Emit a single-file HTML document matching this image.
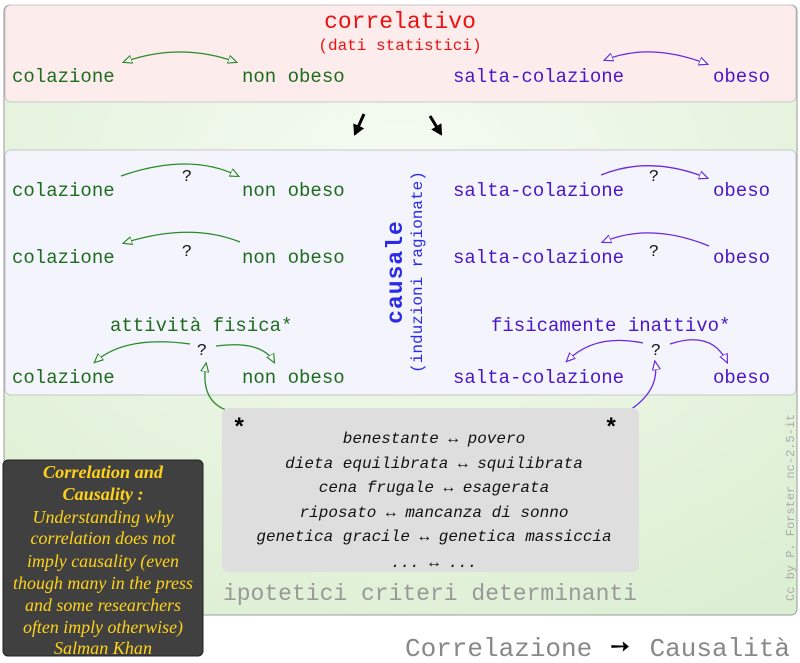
<!DOCTYPE html>
<html><head><meta charset="utf-8"><style>
body{margin:0;background:#fff;}
svg{display:block}
.m{font-family:"Liberation Mono",monospace;font-size:19px}
.g{fill:#1f6b1f}.p{fill:#4a16c8}
.i{font-family:"Liberation Mono",monospace;font-style:italic;font-size:16px;fill:#111}
</style></head><body>
<svg width="800" height="663" viewBox="0 0 800 663" xmlns="http://www.w3.org/2000/svg">
<defs>
<radialGradient id="gg" cx="0.5" cy="0.3" r="0.8"><stop offset="0" stop-color="#f6fbf3"/><stop offset="1" stop-color="#dcefd2"/></radialGradient>
<marker id="ag" markerWidth="10" markerHeight="10" refX="8" refY="5" orient="auto-start-reverse" markerUnits="userSpaceOnUse"><path d="M0,1 L9,5 L0,9 Z" fill="#fff" stroke="#2a8a2a" stroke-width="1.2"/></marker>
<marker id="ap" markerWidth="10" markerHeight="10" refX="8" refY="5" orient="auto-start-reverse" markerUnits="userSpaceOnUse"><path d="M0,1 L9,5 L0,9 Z" fill="#fff" stroke="#6a2ae0" stroke-width="1.2"/></marker>
<marker id="ab" markerWidth="12" markerHeight="12" refX="9" refY="6" orient="auto" markerUnits="userSpaceOnUse"><path d="M0,0 L11,6 L0,12 Z" fill="#000"/></marker>
</defs>
<rect x="4" y="5" width="793" height="610" rx="6" fill="url(#gg)" stroke="#9a9a9a"/>
<rect x="5" y="5" width="791" height="97" rx="6" fill="#fcecec" stroke="#c8c8c8"/>
<rect x="5" y="150" width="791" height="245" rx="6" fill="#f4f4fd" stroke="#c8c8c8"/>
<text x="400" y="28" text-anchor="middle" font-family="Liberation Mono,monospace" font-size="23" fill="#ee1111">correlativo</text>
<text x="400" y="50" text-anchor="middle" font-family="Liberation Mono,monospace" font-size="16" fill="#ee1111">(dati statistici)</text>
<g class="m">
<text x="12" y="82" class="g">colazione</text><text x="242" y="82" class="g">non obeso</text>
<text x="453" y="82" class="p">salta-colazione</text><text x="713" y="82" class="p">obeso</text>
<text x="12" y="196" class="g">colazione</text><text x="242" y="196" class="g">non obeso</text>
<text x="453" y="196" class="p">salta-colazione</text><text x="713" y="196" class="p">obeso</text>
<text x="12" y="263" class="g">colazione</text><text x="242" y="263" class="g">non obeso</text>
<text x="453" y="263" class="p">salta-colazione</text><text x="713" y="263" class="p">obeso</text>
<text x="12" y="383" class="g">colazione</text><text x="242" y="383" class="g">non obeso</text>
<text x="453" y="383" class="p">salta-colazione</text><text x="713" y="383" class="p">obeso</text>
<text x="110" y="331" class="g">attività fisica*</text>
<text x="491" y="331" class="p">fisicamente inattivo*</text>
</g>
<g fill="none" stroke-width="1.3">
<path d="M124,62 Q180,42 236,62" stroke="#2a8a2a" marker-end="url(#ag)" marker-start="url(#ag)"/>
<path d="M605,60 Q650,42 707,64" stroke="#6a2ae0" marker-end="url(#ap)" marker-start="url(#ap)"/>
<path d="M121,176 Q190,152 238,176" stroke="#2a8a2a" marker-end="url(#ag)"/>
<path d="M601,175 Q650,155 707,178" stroke="#6a2ae0" marker-end="url(#ap)"/>
<path d="M240,242 Q190,222 124,243" stroke="#2a8a2a" marker-end="url(#ag)"/>
<path d="M709,246 Q650,222 603,242" stroke="#6a2ae0" marker-end="url(#ap)"/>
<path d="M190,344 Q125,335 95,362" stroke="#2a8a2a" marker-end="url(#ag)"/>
<path d="M216,346 Q262,340 274,362" stroke="#2a8a2a" marker-end="url(#ag)"/>
<path d="M643,343 Q595,333 567,361" stroke="#6a2ae0" marker-end="url(#ap)"/>
<path d="M670,344 Q712,330 727,362" stroke="#6a2ae0" marker-end="url(#ap)"/>
<path d="M226,410 Q200,400 206,364" stroke="#2a8a2a" marker-end="url(#ag)"/>
<path d="M630,410 Q660,390 655,362" stroke="#6a2ae0" marker-end="url(#ap)"/>
</g>
<g font-family="Liberation Mono,monospace" font-size="17" fill="#111">
<text x="187" y="181" text-anchor="middle">?</text><text x="654" y="181" text-anchor="middle">?</text>
<text x="187" y="256" text-anchor="middle">?</text><text x="654" y="256" text-anchor="middle">?</text>
<text x="202" y="355" text-anchor="middle">?</text><text x="656" y="355" text-anchor="middle">?</text>
</g>
<line x1="364" y1="114" x2="355" y2="134" stroke="#000" stroke-width="3" marker-end="url(#ab)"/>
<line x1="430" y1="116" x2="441" y2="134" stroke="#000" stroke-width="3" marker-end="url(#ab)"/>
<text transform="translate(402,272) rotate(-90)" text-anchor="middle" font-family="Liberation Mono,monospace" font-size="23" fill="#2a2ae8" font-weight="bold" letter-spacing="1">causale</text>
<text transform="translate(422,272) rotate(-90)" text-anchor="middle" font-family="Liberation Mono,monospace" font-size="16" fill="#2a2ae8">(induzioni ragionate)</text>
<rect x="222" y="408" width="417" height="164" rx="7" fill="#dedede"/>
<text x="232" y="435" font-family="Liberation Mono,monospace" font-size="24" font-weight="bold">*</text>
<text x="604" y="435" font-family="Liberation Mono,monospace" font-size="24" font-weight="bold">*</text>
<g class="i" text-anchor="middle">
<text x="434" y="443">benestante ↔ povero</text>
<text x="434" y="468">dieta equilibrata ↔ squilibrata</text>
<text x="434" y="492">cena frugale ↔ esagerata</text>
<text x="434" y="517">riposato ↔ mancanza di sonno</text>
<text x="434" y="541">genetica gracile ↔  genetica massiccia</text>
<text x="434" y="567">... ↔ ...</text>
</g>
<text x="430" y="600" text-anchor="middle" font-family="Liberation Mono,monospace" font-size="23" fill="#999">ipotetici criteri determinanti</text>
<text transform="translate(794,601) rotate(-90)" font-family="Liberation Mono,monospace" font-size="12" fill="#aaa">Cc by P. Forster nc-2.5-it</text>
<text x="405" y="656" font-family="Liberation Mono,monospace" font-size="26" fill="#888">Correlazione</text>
<text x="610" y="654" font-family="DejaVu Sans,sans-serif" font-size="24" font-weight="bold" fill="#000">➙</text>
<text x="790" y="656" text-anchor="end" font-family="Liberation Mono,monospace" font-size="26" fill="#888">Causalità</text>
<rect x="3" y="460" width="200" height="196" rx="5" fill="#404040" stroke="#222"/>
<g font-family="Liberation Serif,serif" font-style="italic" font-size="18" fill="#ffd21a" text-anchor="middle">
<text x="103" y="478" font-weight="bold" textLength="120" lengthAdjust="spacingAndGlyphs">Correlation and</text>
<text x="103" y="500" font-weight="bold" textLength="81" lengthAdjust="spacingAndGlyphs">Causality :</text>
<text x="103" y="523" textLength="141" lengthAdjust="spacingAndGlyphs">Understanding why</text>
<text x="103" y="544" textLength="145" lengthAdjust="spacingAndGlyphs">correlation does not</text>
<text x="103" y="567" textLength="152" lengthAdjust="spacingAndGlyphs">imply causality (even</text>
<text x="103" y="589" textLength="180" lengthAdjust="spacingAndGlyphs">though many in the press</text>
<text x="103" y="611" textLength="156" lengthAdjust="spacingAndGlyphs">and some researchers</text>
<text x="103" y="633" textLength="160" lengthAdjust="spacingAndGlyphs">often imply otherwise)</text>
<text x="103" y="654" textLength="98" lengthAdjust="spacingAndGlyphs">Salman Khan</text>
</g>
</svg>
</body></html>
